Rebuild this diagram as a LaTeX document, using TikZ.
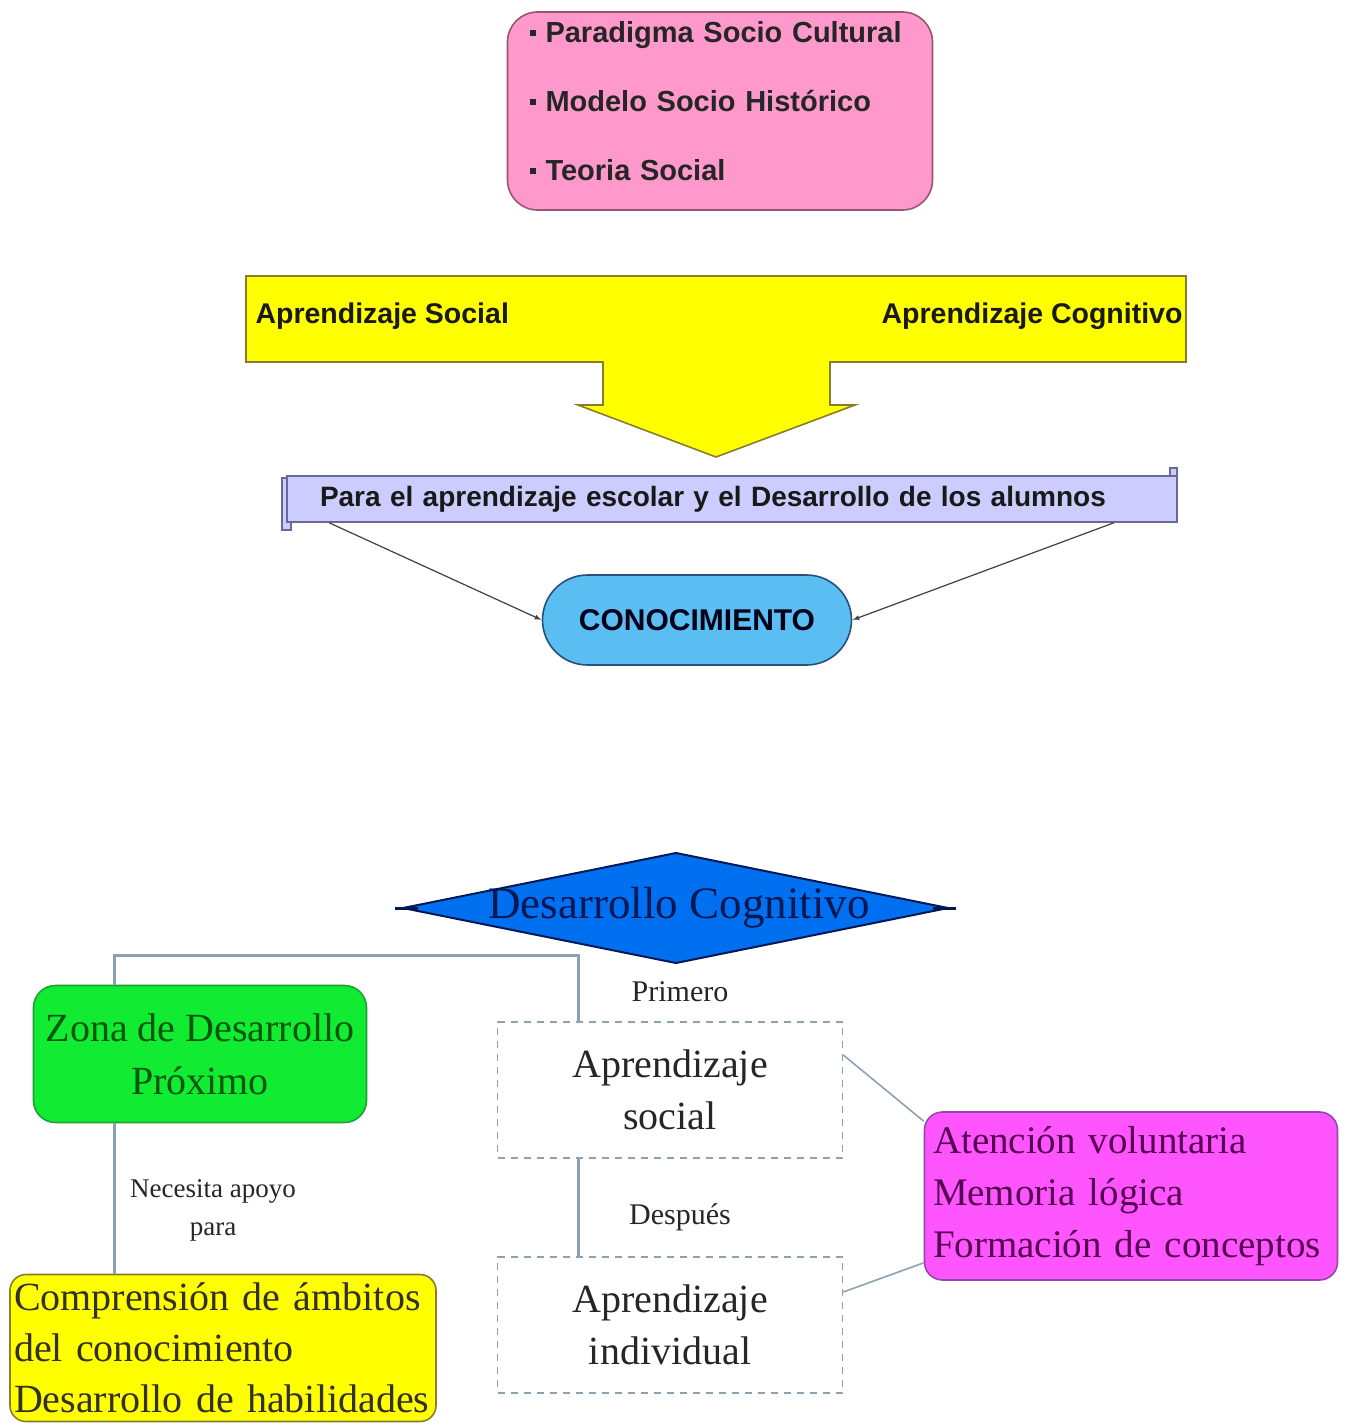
\documentclass[tikz,border=0pt]{standalone}
\usepackage{fontspec}
\setmainfont{Liberation Serif}
\setsansfont{Liberation Sans}
\usetikzlibrary{arrows.meta,positioning}

\definecolor{rosa}{RGB}{255,153,204}
\definecolor{rosaborde}{RGB}{150,85,115}
\definecolor{amarillo}{RGB}{255,255,0}
\definecolor{oliva}{RGB}{135,125,45}
\definecolor{lavanda}{RGB}{204,204,255}
\definecolor{lavandaborde}{RGB}{105,105,150}
\definecolor{celeste}{RGB}{90,190,242}
\definecolor{celesteborde}{RGB}{40,80,120}
\definecolor{azul}{RGB}{0,112,240}
\definecolor{marino}{RGB}{0,25,85}
\definecolor{verde}{RGB}{17,236,51}
\definecolor{verdeborde}{RGB}{30,160,55}
\definecolor{verdetexto}{RGB}{0,85,10}
\definecolor{magenta2}{RGB}{255,85,255}
\definecolor{moradoborde}{RGB}{150,70,170}
\definecolor{morado}{RGB}{85,0,80}
\definecolor{gris}{RGB}{140,162,178}

\newcommand\bul{\rule[0.22em]{6pt}{6pt}\hspace{10pt}}

\tikzset{
  titulo/.style={font=\sffamily\bfseries\fontsize{28.5}{34}\selectfont},
  caja/.style={draw, line width=1.6pt},
  punteada/.style={draw=gris, dashed, dash pattern=on 7pt off 6pt, line width=1.6pt,
    minimum width=345pt, minimum height=136pt, align=center,
    font=\fontsize{40}{52}\selectfont, text=black!85},
  conector/.style={draw=gris, line width=2.6pt},
  enlace/.style={draw=gris, line width=1.6pt},
  flecha/.style={draw=black!75, line width=1.2pt, -{Latex[length=7pt,width=5pt]}},
  etiqueta/.style={font=\fontsize{30}{38}\selectfont, text=black!85, align=center}
}

\begin{document}
\begin{tikzpicture}[x=1pt,y=-1pt]
  \fill[white] (0,0) rectangle (1365,1425);
  \useasboundingbox (0,0) rectangle (1365,1425);

  % parte de arriba
  \node[caja, fill=rosa, draw=rosaborde, rounded corners=30pt,
    minimum width=425pt, minimum height=198pt] (teorias) at (720,111) {};
  \node[text=black!85, inner xsep=22pt, text width=381pt, align=left,
    font=\sffamily\bfseries\fontsize{29}{69}\selectfont] (teoriastexto) at (720,101)
    {\bul Paradigma Socio Cultural\\ \bul Modelo Socio Histórico\\ \bul Teoria Social};

  \draw[caja, fill=amarillo, draw=oliva] (246,276) -- (1186,276) -- (1186,362) -- (830,362)
    -- (830,405) -- (855,405) -- (716,457) -- (578,405) -- (603,405) -- (603,362)
    -- (246,362) -- cycle;
  \node[titulo, anchor=west, text=black!90] (asocial) at (252,316) {Aprendizaje Social};
  \node[titulo, anchor=east, text=black!90] (acognitivo) at (1186,316) {Aprendizaje Cognitivo};

  \draw[caja, fill=lavanda, draw=lavandaborde] (282,478) rectangle (291,530);
  \draw[caja, fill=lavanda, draw=lavandaborde] (1170,468) rectangle (1177,478);
  \node[caja, fill=lavanda, draw=lavandaborde, minimum height=46pt, inner xsep=33pt,
    text width=824pt, align=left, text=black!90,
    font=\sffamily\bfseries\fontsize{28}{30}\selectfont] (meta) at (732,499)
    {Para el aprendizaje escolar y el Desarrollo de los alumnos};

  \node[caja, fill=celeste, draw=celesteborde, text=black!90!blue,
    font=\sffamily\bfseries\fontsize{30}{34}\selectfont,
    rounded corners=45pt, minimum width=309pt, minimum height=90pt] (cono) at (697,620)
    {CONOCIMIENTO};

  \draw[flecha] ([xshift=43pt]meta.south west) -- (cono.west);
  \draw[flecha] ([xshift=-64pt]meta.south east) -- (cono.east);

  % parte de abajo
  \draw[fill=azul, draw=marino, line width=2pt] (403,908) -- (676,853) -- (948,908)
    -- (676,963) -- cycle;
  \draw[marino, line width=3pt] (395,908) -- (418,908);
  \draw[marino, line width=3pt] (933,908) -- (956,908);
  \node[text=marino, font=\fontsize{45}{50}\selectfont] (dcog) at (679,908) {Desarrollo Cognitivo};

  \node[caja, fill=verde, draw=verdeborde, text=verdetexto, rounded corners=22pt,
    minimum width=333pt, minimum height=137pt, align=center,
    font=\fontsize{40}{53}\selectfont] (zona) at (200,1054) {Zona de Desarrollo\\Próximo};

  \node[caja, fill=amarillo, draw=oliva, text=black!85!olive, rounded corners=16pt,
    minimum height=147pt, inner xsep=4pt, text width=418pt, align=left,
    font=\fontsize{40}{51}\selectfont] (comp) at (223,1348)
    {Comprensión de ámbitos\\del conocimiento\\Desarrollo de habilidades};

  \node[punteada] (social) at (670,1090) {Aprendizaje\\social};
  \node[punteada] (indiv) at (670,1325) {Aprendizaje\\individual};

  \node[caja, fill=magenta2, draw=moradoborde, text=morado, rounded corners=18pt,
    minimum width=413pt, minimum height=168pt, inner xsep=0pt, text width=396pt,
    align=left, font=\fontsize{39}{52}\selectfont] (atencion) at (1131,1196)
    {Atención voluntaria\\Memoria lógica\\Formación de conceptos};

  \draw[conector] ([xshift=82pt]zona.north west) -- ++(0,-29) -| ([xshift=82pt]social.north west);
  \draw[conector] ([xshift=82pt]zona.south west) -- ([xshift=82pt]zona.south west |- comp.north);
  \draw[conector] ([xshift=82pt]social.south west) -- ([xshift=82pt]indiv.north west);
  \draw[enlace] ([yshift=35pt]social.east) -- ([yshift=-10pt]atencion.north west);
  \draw[enlace] ([yshift=18pt]atencion.south west) -- ([yshift=33pt]indiv.east);

  \node[etiqueta] (primero) at (680,992) {Primero};
  \node[etiqueta, font=\fontsize{27}{38}\selectfont] (necesita) at (213,1210) {Necesita apoyo\\para};
  \node[etiqueta] (despues) at (680,1217) {Después};
\end{tikzpicture}
\end{document}
